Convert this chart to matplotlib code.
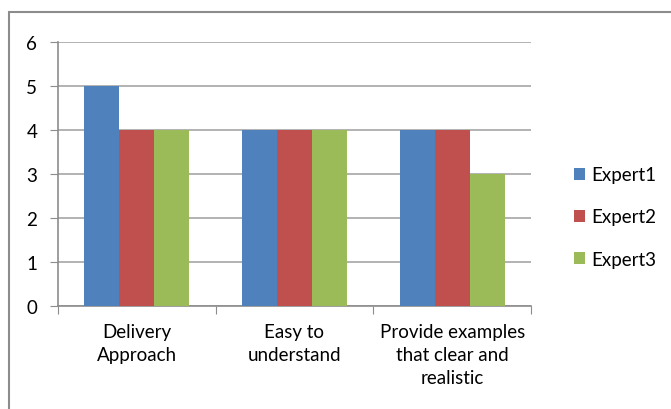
import numpy as np
import matplotlib.pyplot as plt
from matplotlib.patches import Rectangle

# data
categories = ['Delivery\nApproach', 'Easy to\nunderstand', 'Provide examples\nthat clear and\nrealistic']
series_names = ['Expert1', 'Expert2', 'Expert3']
expert1 = [5, 4, 4]
expert2 = [4, 4, 4]
expert3 = [4, 4, 3]
colors = ['#4F81BD', '#C0504D', '#9BBB59']

plt.rcParams['font.family'] = ['Lato', 'DejaVu Sans']
plt.rcParams['font.size'] = 13.5

fig = plt.figure(figsize=(6.71, 4.10), dpi=100)
W, H = 671, 410

# chart border (runs off the right and bottom edge)
fig.patches.append(Rectangle((9 / W, -0.1), 1.2, (H - 13) / H + 0.1,
                             transform=fig.transFigure, fill=False,
                             edgecolor='#8C8C8C', linewidth=1.5))

ax = fig.add_axes([58 / W, (H - 307) / H, (531 - 58) / W, (307 - 43) / H])

x = np.arange(len(categories))
bw = 35 / 158
for i, vals in enumerate([expert1, expert2, expert3]):
    ax.bar(x + (i - 1) * bw, vals, width=bw, color=colors[i],
           label=series_names[i], zorder=3)

ax.set_xlim(-0.5, 2.5)
ax.set_ylim(0, 6)
ax.set_yticks(range(0, 7))
ax.yaxis.grid(True, color='#A6A6A6', linewidth=1.2, zorder=0)

ax.set_xticks([-0.5, 0.5, 1.5, 2.5])
ax.set_xticklabels([])
ax.set_xticks(x, minor=True)
ax.set_xticklabels(categories, minor=True, linespacing=1.45)
ax.tick_params(axis='x', which='minor', length=0, pad=12)
ax.tick_params(axis='x', which='major', length=6, color='#8C8C8C')
ax.tick_params(axis='y', length=6, color='#8C8C8C', pad=9)

for s in ['top', 'right']:
    ax.spines[s].set_visible(False)
for s in ['left', 'bottom']:
    ax.spines[s].set_color('#8C8C8C')
    ax.spines[s].set_linewidth(1.2)

fig.legend(loc='center left', bbox_to_anchor=(557 / W, (H - 218) / H),
           frameon=False, handlelength=0.6, handleheight=0.6,
           handletextpad=0.35, labelspacing=1.35)

fig.savefig('out.png', dpi=100)
